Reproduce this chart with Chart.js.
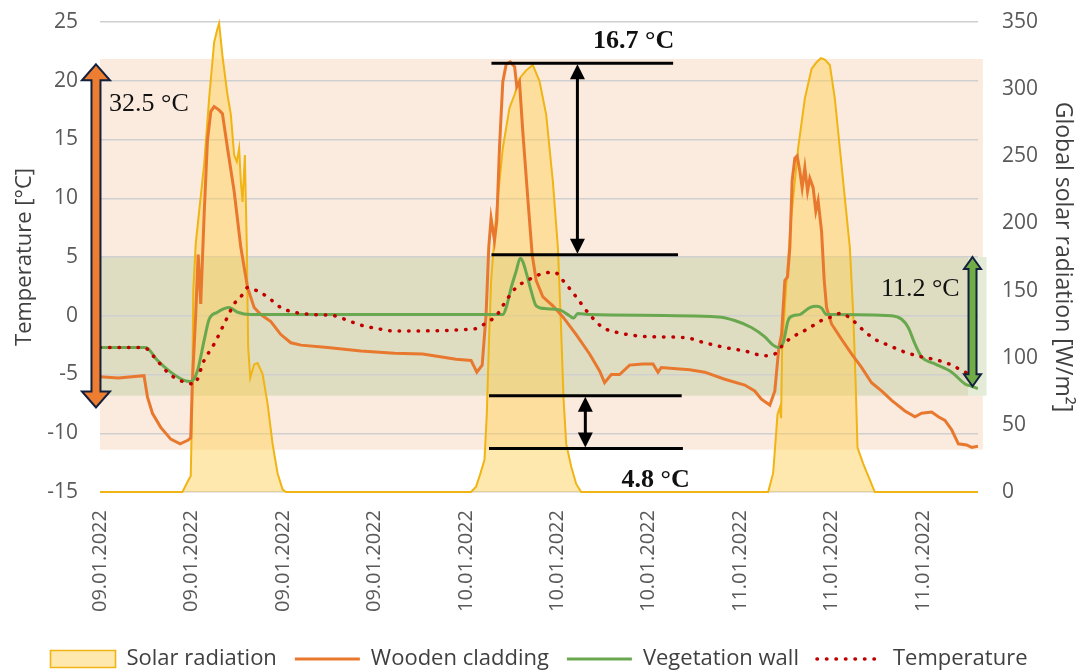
<!DOCTYPE html>
<html>
<head>
<meta charset="utf-8">
<script src="https://cdn.jsdelivr.net/npm/chart.js@4.4.0/dist/chart.umd.min.js"></script>
<style>
  html, body { margin: 0; padding: 0; background: #fff; }
</style>
</head>
<body>
<canvas id="chart" width="1078" height="670"></canvas>
<script>
// x values are hours from 09.01.2022 00:00
const tickHours = [0, 7.5, 15, 22.5, 30, 37.5, 45, 52.5, 60, 67.5];
const tickLabels = ['09.01.2022', '09.01.2022', '09.01.2022', '09.01.2022',
  '10.01.2022', '10.01.2022', '10.01.2022',
  '11.01.2022', '11.01.2022', '11.01.2022'];

// Solar radiation [W/m2]
const solarHours = [0, 6.76, 7.2, 7.44, 7.55, 7.65, 7.85, 8.54, 8.95, 9.36, 9.63, 9.77, 10.04, 10.45, 10.73,
  11.0, 11.22, 11.41, 11.55, 11.69, 11.88, 12.04, 12.15, 12.32, 12.64, 12.92, 13.33, 13.74, 14.15, 14.56,
  14.97, 15.24, 30.43, 30.84, 31.2, 31.53, 31.72, 31.88, 32.07, 32.49, 33.03, 33.58, 34.0, 34.4, 34.95,
  35.49, 36.04, 36.59, 37.14, 37.55, 37.82, 38.01, 38.23, 38.64, 39.05, 39.46, 54.79, 55.2, 55.56, 55.75,
  55.85, 55.94, 56.3, 56.71, 57.25, 57.8, 58.35, 58.76, 59.12, 59.44, 59.85, 60.26, 60.67, 61.08, 61.49,
  61.77, 61.96, 62.12, 62.59, 63.13, 63.54, 72];
const solarValues = [0, 0, 8, 12, 60, 150, 185, 244, 293, 335, 345, 349, 325, 296, 281,
  251, 246, 256, 231, 216, 251, 182, 108, 85, 95, 96, 88, 66, 36, 14,
  2, 0, 0, 4, 14, 24, 58, 108, 157, 207, 256, 286, 296, 308, 314,
  318, 306, 281, 231, 182, 120, 70, 36, 19, 6, 0, 0, 14, 58, 63,
  55, 108, 157, 207, 256, 293, 315, 320, 323, 322, 318, 293, 256, 219, 182,
  132, 83, 33, 21, 9, 0, 0];

// Wooden cladding [°C]
const woodHours = [0, 1.5, 3.61, 3.89, 4.3, 4.98, 5.8, 6.57, 7.2, 7.44, 7.58, 7.85, 8.05, 8.26, 8.54,
  8.81, 9.09, 9.36, 9.77, 10.04, 10.45, 11.0, 11.55, 12.1, 12.64, 13.19, 14.01, 14.83, 15.65, 16.48,
  18.66, 21.4, 24.14, 26.46, 29.2, 30.43, 30.9, 31.34, 31.66, 31.88, 32.07, 32.35, 32.54, 32.76, 33.03,
  33.31, 33.64, 34.0, 34.18, 34.4, 34.67, 35.08, 35.44, 35.77, 36.32, 37.14, 37.96, 39.05, 40.15, 40.97,
  41.38, 41.93, 42.61, 43.43, 44.53, 45.35, 45.76, 46.03, 47.27, 48.36, 49.59, 51.23, 52.87, 53.69, 54.24,
  54.93, 55.34, 55.67, 55.89, 56.16, 56.38, 56.57, 56.76, 56.98, 57.17, 57.39, 57.58, 57.8, 58.02, 58.21,
  58.48, 58.7, 58.89, 59.17, 59.39, 59.58, 59.99, 60.81, 61.63, 62.45, 63.27, 64.09, 64.92, 66.01, 66.83,
  67.38, 68.2, 68.75, 69.29, 69.84, 70.39, 71.07, 71.48, 72];
const woodValues = [-5.2, -5.3, -5.1, -6.9, -8.3, -9.5, -10.5, -10.9, -10.6, -10.4, -5.5, 0.1, 5.2, 1.0, 8.6,
  14.9, 17.4, 17.8, 17.5, 17.2, 14.3, 10.6, 5.8, 2.4, 0.7, 0.1, -0.5, -1.6, -2.3, -2.5,
  -2.7, -3.0, -3.2, -3.25, -3.7, -3.8, -4.8, -4.2, 0.1, 5.8, 8.3, 6.4, 8.1, 14.3, 19.9,
  21.4, 21.6, 21.2, 19.5, 19.9, 15.7, 10.0, 5.2, 3.0, 1.6, 0.85, -0.1, -1.6, -3.25, -4.7,
  -5.7, -5.0, -5.0, -4.2, -4.1, -4.1, -4.8, -4.4, -4.5, -4.6, -4.8, -5.4, -5.9, -6.4, -7.1,
  -7.6, -6.4, -2.7, -1.6, 3.0, 3.3, 5.8, 11.5, 13.4, 13.6, 12.3, 10.9, 12.6, 10.6, 11.7,
  10.9, 8.9, 9.8, 7.2, 3.0, 0.7, -0.7, -2.0, -3.25, -4.4, -5.7, -6.4, -7.2, -8.1, -8.6,
  -8.3, -8.2, -8.6, -8.9, -9.7, -10.9, -11.0, -11.2, -11.1];

// Vegetation wall [°C]
const vegHours = [0, 3.75, 4.71, 5.8, 6.9, 7.44, 7.99, 8.54, 8.95, 9.63, 10.18, 10.59, 11.28, 12.37, 33.03,
  33.31, 33.72, 34.13, 34.46, 34.67, 35.0, 35.36, 35.77, 36.59, 37.69, 38.5, 38.83, 39.19, 40.15, 50.69,
  52.05, 53.42, 54.52, 55.2, 55.61, 56.02, 56.43, 56.84, 57.39, 58.21, 58.76, 59.17, 59.58, 59.99, 64.92,
  65.74, 66.28, 66.83, 67.38, 68.47, 69.84, 70.93, 71.48, 72];
const vegValues = [-2.7, -2.7, -3.8, -4.8, -5.5, -5.6, -4.7, -2.1, -0.3, 0.3, 0.6, 0.7, 0.3, 0.1, 0.1,
  0.7, 2.4, 3.8, 4.9, 4.6, 3.5, 2.1, 0.85, 0.6, 0.5, 0.0, -0.2, 0.2, 0.1, -0.1,
  -0.4, -1.0, -1.8, -2.5, -2.7, -2.3, -0.4, 0.0, 0.1, 0.7, 0.8, 0.65, 0.1, 0.1, 0.0,
  -0.3, -1.0, -2.4, -3.5, -4.1, -4.8, -5.8, -6.0, -6.2];

// Outdoor air temperature [°C]
const tempHours = [0, 3.61, 4.43, 5.53, 6.35, 7.72, 8.54, 9.36, 10.18, 11.0, 11.69, 12.1, 12.92, 13.74, 14.83,
  15.93, 17.57, 19.21, 20.31, 21.4, 22.77, 24.14, 30.84, 31.66, 32.49, 33.31, 34.13, 35.22, 36.32, 37.28,
  37.96, 39.05, 40.15, 41.24, 42.34, 43.98, 45.62, 47.9, 49.59, 51.23, 52.87, 54.52, 55.34, 56.16, 56.98,
  58.07, 59.17, 59.99, 60.75, 61.63, 62.45, 63.55, 64.64, 66.01, 67.38, 68.75, 69.84, 70.93, 72];
const tempValues = [-2.7, -2.7, -3.5, -4.8, -5.4, -5.8, -3.8, -2.4, -0.7, 1.0, 1.8, 2.4, 2.1, 1.6, 0.7,
  0.3, 0.1, 0.0, -0.4, -0.8, -1.1, -1.3, -1.1, -0.6, 0.0, 1.3, 2.4, 3.1, 3.6, 3.7,
  3.0, 1.6, 0.1, -1.0, -1.4, -1.7, -1.8, -1.85, -2.3, -2.7, -3.0, -3.4, -3.25, -2.3, -1.7,
  -1.1, -0.4, -0.1, 0.2, -0.3, -1.1, -2.0, -2.5, -3.1, -3.5, -3.8, -4.2, -4.8, -5.2];

// Highlight ranges and markers (hours / °C)
const bands = [
  { x0: 0, x1: 72.4, y0: -11.4, y1: 21.85, color: '#FBEBDF' },
  { x0: 0, x1: 71.2, y0: -6.8, y1: 5.0, color: '#DEDDC1' },
  { x0: 71.2, x1: 72.7, y0: -6.8, y1: 5.0, color: '#E4ECD8' }
];
const blackLines = [
  { x0: 32.1, x1: 47.0, y: 21.5 },
  { x0: 32.1, x1: 47.4, y: 5.2 },
  { x0: 31.9, x1: 47.7, y: -6.8 },
  { x0: 31.9, x1: 47.8, y: -11.3 }
];
const blackArrows = [
  { x: 39.15, y0: 21.5, y1: 5.2 },
  { x: 39.8, y0: -6.8, y1: -11.3 }
];
const fatArrows = [
  { x: -0.33, y0: 21.4, y1: -7.8, fill: '#ED7D31', shaft: 9, head: 28, headH: 16 },
  { x: 71.55, y0: 5.0, y1: -6.0, fill: '#70AD47', shaft: 8, head: 17, headH: 12 }
];
const notes = [
  { text: '32.5 °C', x: 0.74, y: 17.4, align: 'left', bold: false },
  { text: '16.7 °C', x: 43.76, y: 22.8, align: 'center', bold: true },
  { text: '4.8 °C', x: 45.57, y: -14.6, align: 'center', bold: true },
  { text: '11.2 °C', x: 70.5, y: 1.7, align: 'right', bold: false }
];

function toPoints(xs, ys) {
  return xs.map((x, i) => ({ x: x, y: ys[i] }));
}

// fixed side widths so the plot spans the same pixels as the original
function fixSide(axis) {
  axis.width = 100;
  axis.paddingTop = 0;
  axis.paddingBottom = 0;
}

const refMarks = {
  id: 'refMarks',
  beforeDraw(chart) {
    const { ctx, scales } = chart;
    const xs = scales.x, ys = scales.y;
    ctx.save();
    bands.forEach(b => {
      const l = xs.getPixelForValue(b.x0), r = xs.getPixelForValue(b.x1);
      const t = ys.getPixelForValue(b.y1), btm = ys.getPixelForValue(b.y0);
      ctx.fillStyle = b.color;
      ctx.fillRect(l, t, r - l, btm - t);
    });
    ctx.restore();
  },
  afterDatasetsDraw(chart) {
    const { ctx, scales } = chart;
    const xs = scales.x, ys = scales.y;
    ctx.save();
    ctx.strokeStyle = '#000';
    ctx.fillStyle = '#000';
    ctx.lineWidth = 3;
    blackLines.forEach(l => {
      const y = ys.getPixelForValue(l.y);
      ctx.beginPath();
      ctx.moveTo(xs.getPixelForValue(l.x0), y);
      ctx.lineTo(xs.getPixelForValue(l.x1), y);
      ctx.stroke();
    });
    blackArrows.forEach(a => {
      const x = xs.getPixelForValue(a.x);
      const yt = ys.getPixelForValue(a.y0), yb = ys.getPixelForValue(a.y1);
      ctx.lineWidth = 3;
      ctx.beginPath();
      ctx.moveTo(x, yt + 10);
      ctx.lineTo(x, yb - 10);
      ctx.stroke();
      ctx.beginPath();
      ctx.moveTo(x, yt + 1);
      ctx.lineTo(x + 7.5, yt + 16);
      ctx.lineTo(x - 7.5, yt + 16);
      ctx.closePath();
      ctx.fill();
      ctx.beginPath();
      ctx.moveTo(x, yb - 1);
      ctx.lineTo(x + 7.5, yb - 16);
      ctx.lineTo(x - 7.5, yb - 16);
      ctx.closePath();
      ctx.fill();
    });
    fatArrows.forEach(a => {
      const x = xs.getPixelForValue(a.x);
      const yt = ys.getPixelForValue(a.y0), yb = ys.getPixelForValue(a.y1);
      const s = a.shaft / 2, h = a.head / 2;
      ctx.beginPath();
      ctx.moveTo(x, yt);
      ctx.lineTo(x + h, yt + a.headH);
      ctx.lineTo(x + s, yt + a.headH);
      ctx.lineTo(x + s, yb - a.headH);
      ctx.lineTo(x + h, yb - a.headH);
      ctx.lineTo(x, yb);
      ctx.lineTo(x - h, yb - a.headH);
      ctx.lineTo(x - s, yb - a.headH);
      ctx.lineTo(x - s, yt + a.headH);
      ctx.lineTo(x - h, yt + a.headH);
      ctx.closePath();
      ctx.fillStyle = a.fill;
      ctx.fill();
      ctx.strokeStyle = '#14213D';
      ctx.lineWidth = 2;
      ctx.stroke();
    });
    ctx.fillStyle = '#111';
    ctx.textBaseline = 'alphabetic';
    notes.forEach(n => {
      ctx.font = (n.bold ? 'bold ' : '') + '26px "Liberation Serif", "Times New Roman", serif';
      ctx.textAlign = n.align;
      ctx.fillText(n.text, xs.getPixelForValue(n.x), ys.getPixelForValue(n.y));
    });
    ctx.restore();
  }
};

const tickFont = { family: 'Open Sans', size: 21 };
const titleFont = { family: 'Open Sans', size: 22 };

new Chart(document.getElementById('chart'), {
  type: 'line',
  data: {
    datasets: [
      {
        label: 'Solar radiation',
        data: toPoints(solarHours, solarValues),
        yAxisID: 'y2',
        borderColor: '#F0B414',
        backgroundColor: 'rgba(255, 206, 84, 0.48)',
        borderWidth: 2,
        fill: 'origin',
        clip: false,
        pointRadius: 0,
        pointStyle: 'rect',
        order: 4
      },
      {
        label: 'Wooden cladding',
        data: toPoints(woodHours, woodValues),
        yAxisID: 'y',
        borderColor: '#E9782F',
        backgroundColor: '#E9782F',
        borderWidth: 3,
        fill: false,
        pointRadius: 0,
        pointStyle: 'line',
        order: 3
      },
      {
        label: 'Vegetation wall',
        data: toPoints(vegHours, vegValues),
        yAxisID: 'y',
        borderColor: '#6AA84F',
        backgroundColor: '#6AA84F',
        borderWidth: 3,
        fill: false,
        pointRadius: 0,
        pointStyle: 'line',
        cubicInterpolationMode: 'monotone',
        order: 2
      },
      {
        label: 'Temperature',
        data: toPoints(tempHours, tempValues),
        yAxisID: 'y',
        borderColor: '#C00000',
        backgroundColor: '#C00000',
        borderWidth: 3.5,
        borderDash: [0.5, 9],
        borderCapStyle: 'round',
        fill: false,
        pointRadius: 0,
        pointStyle: 'line',
        cubicInterpolationMode: 'monotone',
        order: 1
      }
    ]
  },
  options: {
    responsive: false,
    animation: false,
    layout: { padding: { top: 22, left: 0, right: 0, bottom: -10 } },
    plugins: {
      tooltip: { enabled: false },
      legend: {
        position: 'bottom',
        labels: {
          usePointStyle: true,
          pointStyleWidth: 65,
          boxHeight: 17,
          padding: 18,
          color: '#404040',
          font: { family: 'Open Sans', size: 22 },
          generateLabels(chart) {
            return chart.data.datasets.map((ds, i) => ({
              text: ds.label,
              fillStyle: ds.backgroundColor,
              strokeStyle: ds.borderColor,
              lineWidth: ds.pointStyle === 'rect' ? 1.6 : ds.borderWidth,
              lineDash: ds.borderDash || [],
              lineCap: ds.borderCapStyle || 'butt',
              pointStyle: ds.pointStyle,
              fontColor: '#404040',
              hidden: false,
              datasetIndex: i
            }));
          }
        }
      }
    },
    scales: {
      x: {
        type: 'linear',
        min: 0,
        max: 72,
        afterBuildTicks(axis) {
          axis.ticks = tickHours.map(v => ({ value: v }));
        },
        ticks: {
          autoSkip: false,
          minRotation: 90,
          maxRotation: 90,
          padding: 18,
          color: '#595959',
          font: { family: 'Open Sans', size: 20 },
          callback: (value, index) => tickLabels[index]
        },
        grid: { display: false, drawTicks: false },
        border: { display: false }
      },
      y: {
        position: 'left',
        min: -15,
        max: 25,
        afterFit: fixSide,
        ticks: { stepSize: 5, padding: 22, color: '#595959', font: tickFont },
        grid: { color: '#CFCFCF', lineWidth: 1.5, drawTicks: false },
        border: { display: false },
        title: {
          display: true,
          text: 'Temperature [°C]',
          color: '#404040',
          font: titleFont,
          padding: { top: 12, bottom: 0 }
        }
      },
      y2: {
        position: 'right',
        min: 0,
        max: 350,
        afterFit: fixSide,
        ticks: { stepSize: 50, padding: 24, color: '#595959', font: tickFont },
        grid: { display: false, drawTicks: false },
        border: { display: false },
        title: {
          display: true,
          text: 'Global solar radiation [W/m²]',
          color: '#404040',
          font: { family: 'Open Sans', size: 23 },
          padding: { top: 2, bottom: 0 }
        }
      }
    }
  },
  plugins: [refMarks]
});
</script>
</body>
</html>
